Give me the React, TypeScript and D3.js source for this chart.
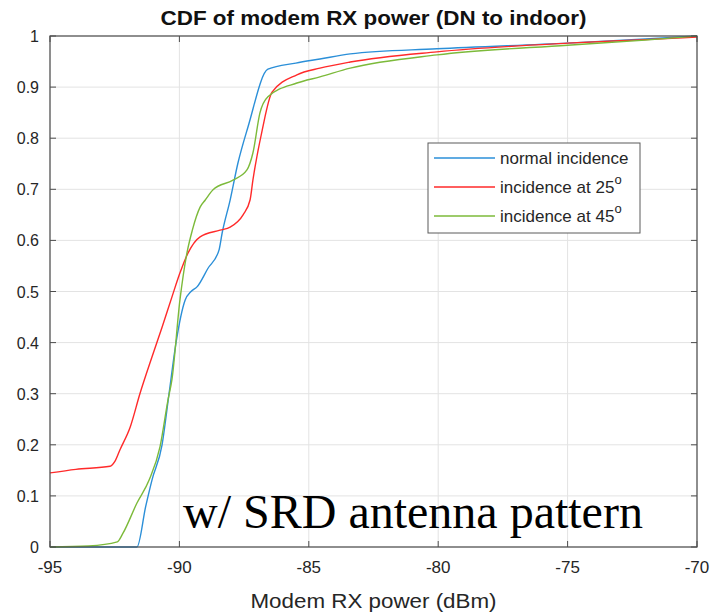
import * as d3 from 'd3'

const xTicks = [-95, -90, -85, -80, -75, -70]
const yTicks = [0, 0.1, 0.2, 0.3, 0.4, 0.5, 0.6, 0.7, 0.8, 0.9, 1]

const normalX = [-95, -91.64, -91.3, -91.06, -90.67, -90.4, -90.13, -89.78, -89.55, -89.32, -88.9, -88.47, -88.35, -88.04, -87.74, -87.35, -86.58, -85.5, -84.57, -83.4, -80.05, -75, -72, -70]
const normalY = [0, 0, 0.08, 0.131, 0.2, 0.3, 0.4, 0.483, 0.5, 0.509, 0.545, 0.581, 0.614, 0.679, 0.751, 0.822, 0.935, 0.947, 0.955, 0.965, 0.975, 0.986, 0.994, 1]

const deg25X = [-95, -94, -92.68, -92.5, -92.3, -91.9, -91.52, -91.06, -90.67, -90.29, -89.98, -89.67, -89.2, -88.43, -88.04, -87.54, -87.27, -87.16, -86.8, -86.42, -85.46, -84.57, -83.4, -80.05, -75, -72, -70]
const deg25Y = [0.145, 0.152, 0.158, 0.167, 0.19, 0.235, 0.301, 0.372, 0.43, 0.489, 0.536, 0.575, 0.607, 0.62, 0.626, 0.65, 0.679, 0.718, 0.816, 0.89, 0.924, 0.937, 0.949, 0.969, 0.986, 0.993, 0.998]

const deg45X = [-95, -93.5, -92.4, -92.18, -91.64, -91.17, -90.75, -90.44, -90.29, -89.98, -89.71, -89.5, -89.2, -89.0, -88.7, -87.93, -87.39, -87.16, -86.89, -86.58, -85.46, -84.57, -83.4, -80.05, -75, -72, -70]
const deg45Y = [0, 0.002, 0.01, 0.027, 0.086, 0.131, 0.196, 0.288, 0.327, 0.483, 0.575, 0.62, 0.665, 0.679, 0.699, 0.718, 0.738, 0.771, 0.849, 0.881, 0.908, 0.92, 0.937, 0.963, 0.982, 0.992, 1]

const seriesNames = ['normal incidence', 'incidence at 25', 'incidence at 45']
const seriesColors = ['#2b8fd8', '#ff2a2a', '#7cba3a']

export default function App() {
  const width = 713
  const height = 615
  const m = { left: 50, right: 16, top: 36, bottom: 68 }

  const x = d3.scaleLinear().domain([-95, -70]).range([m.left, width - m.right])
  const y = d3.scaleLinear().domain([0, 1]).range([height - m.bottom, m.top])

  const line = d3
    .line<[number, number]>()
    .x((d) => x(d[0]))
    .y((d) => y(d[1]))
    .curve(d3.curveMonotoneX)

  const series = [
    d3.zip(normalX, normalY) as [number, number][],
    d3.zip(deg25X, deg25Y) as [number, number][],
    d3.zip(deg45X, deg45Y) as [number, number][],
  ]

  const x0 = x(-95)
  const x1 = x(-70)
  const y0 = y(0)
  const y1 = y(1)
  const axisColor = '#4d4d4d'
  const textColor = '#262626'
  const font = 'Arial, "Liberation Sans", sans-serif'

  const lg = { x: 428, y: 143, w: 212, h: 90 }

  return (
    <svg width={width} height={height} style={{ position: 'absolute', left: 0, top: 0, background: '#fff' }}>
      <rect x={0} y={0} width={width} height={height} fill="#fff" />
      {/* grid */}
      {xTicks.map((t) => (
        <line key={'gx' + t} x1={x(t)} x2={x(t)} y1={y0} y2={y1} stroke="#e3e3e3" strokeWidth={1} />
      ))}
      {yTicks.map((t) => (
        <line key={'gy' + t} x1={x0} x2={x1} y1={y(t)} y2={y(t)} stroke="#e3e3e3" strokeWidth={1} />
      ))}

      {/* curves */}
      {series.map((s, i) => (
        <path key={i} d={line(s) || ''} fill="none" stroke={seriesColors[i]} strokeWidth={1.4} />
      ))}

      {/* box and ticks */}
      <rect x={x0} y={y1} width={x1 - x0} height={y0 - y1} fill="none" stroke={axisColor} strokeWidth={1.2} />
      {xTicks.map((t) => (
        <g key={'tx' + t}>
          <line x1={x(t)} x2={x(t)} y1={y0} y2={y0 - 6} stroke={axisColor} />
          <line x1={x(t)} x2={x(t)} y1={y1} y2={y1 + 6} stroke={axisColor} />
          <text x={x(t)} y={y0 + 26} textAnchor="middle" fontSize={17} fill={textColor} fontFamily={font}>
            {t}
          </text>
        </g>
      ))}
      {yTicks.map((t) => (
        <g key={'ty' + t}>
          <line x1={x0} x2={x0 + 6} y1={y(t)} y2={y(t)} stroke={axisColor} />
          <line x1={x1} x2={x1 - 6} y1={y(t)} y2={y(t)} stroke={axisColor} />
          <text x={x0 - 11} y={y(t) + 6} textAnchor="end" fontSize={16} fill={textColor} fontFamily={font}>
            {t}
          </text>
        </g>
      ))}

      {/* titles */}
      <text
        x={(x0 + x1) / 2}
        y={25}
        textAnchor="middle"
        fontSize={20}
        fontWeight="bold"
        fill="#111"
        fontFamily={font}
        textLength={426}
        lengthAdjust="spacingAndGlyphs"
      >
        CDF of modem RX power (DN to indoor)
      </text>
      <text
        x={(x0 + x1) / 2}
        y={608}
        textAnchor="middle"
        fontSize={20}
        fill={textColor}
        fontFamily={font}
        textLength={246}
        lengthAdjust="spacingAndGlyphs"
      >
        Modem RX power (dBm)
      </text>

      {/* annotation */}
      <text x={183} y={528} fontSize={48} fill="#000" fontFamily='"Liberation Serif", "Times New Roman", serif'>
        w/ SRD antenna pattern
      </text>

      {/* legend */}
      <rect x={lg.x} y={lg.y} width={lg.w} height={lg.h} fill="#fff" stroke="#5a5a5a" strokeWidth={1} />
      {seriesNames.map((name, i) => {
        const ly = lg.y + 15 + i * 29
        return (
          <g key={name}>
            <line x1={lg.x + 6} x2={lg.x + 67} y1={ly} y2={ly} stroke={seriesColors[i]} strokeWidth={1.4} />
            <text x={lg.x + 72} y={ly + 6} fontSize={17} fill={textColor} fontFamily={font}>
              {name}
              {i > 0 && (
                <tspan dy={-9} fontSize={13}>
                  o
                </tspan>
              )}
            </text>
          </g>
        )
      })}
    </svg>
  )
}
